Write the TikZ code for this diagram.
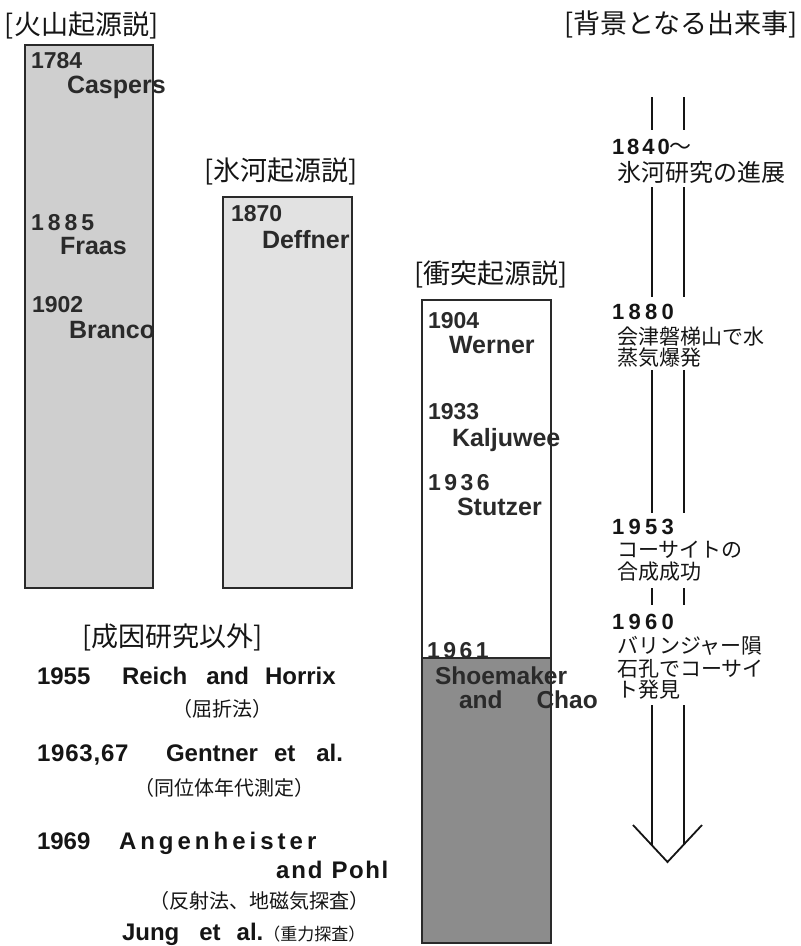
\documentclass[tikz,border=0pt]{standalone}
\usepackage{fontspec}
\newfontfamily\lat{Liberation Sans}
\newfontfamily\jp{Noto Sans CJK JP}
\definecolor{ink}{HTML}{151515}
\definecolor{boxink}{HTML}{2A2A2A}
\definecolor{volc}{HTML}{CFCFCF}
\definecolor{glac}{HTML}{E2E2E2}
\definecolor{imp}{HTML}{8C8C8C}
\begin{document}
\begin{tikzpicture}[x=1pt,y=-1pt,
  every node/.style={inner sep=0pt, outer sep=0pt, anchor=base west},
  yr/.style={font=\lat\bfseries\fontsize{23}{23}\selectfont, text=boxink},
  nm/.style={font=\lat\bfseries\fontsize{25}{25}\selectfont, text=boxink},
  ryr/.style={font=\lat\bfseries\fontsize{22}{22}\selectfont, text=ink},
  byr/.style={font=\lat\bfseries\fontsize{24}{24}\selectfont, text=ink},
  hd/.style={font=\jp\fontsize{27}{27}\selectfont, text=ink},
  ev/.style={font=\jp\fontsize{21}{21}\selectfont, text=ink},
  note/.style={font=\jp\fontsize{20}{20}\selectfont, text=ink},
  colbox/.style={draw=boxink, line width=1.4pt, anchor=north west, minimum width=#1},
  dbl/.style={draw=ink, line width=1.8pt, double=white, double distance=30.2pt},
]
\useasboundingbox (0,0) rectangle (801,946);

% ---------- headers ----------
\node[hd] (hv) at (5,34) {[火山起源説]};
\node[hd] (hg) at (204,180) {[氷河起源説]};
\node[hd] (hi) at (414,283) {[衝突起源説]};
\node[hd] (hb) at (564,33) {[背景となる出来事]};
\node[hd] (ho) at (82,646) {[成因研究以外]};

% ---------- boxes ----------
\node[colbox=128pt, fill=volc, minimum height=543pt] (bv) at (25,45) {};
\node[colbox=129pt, fill=glac, minimum height=391pt] (bg) at (223,197) {};
\node[colbox=129pt, fill=white, minimum height=643pt] (bi) at (422,300) {};
\node[colbox=129pt, fill=imp, minimum height=285pt] (bd) at (422,658) {};

% ---------- volcanic ----------
\node[yr] (y1784) at (31,68) {1784};
\node[nm] (caspers) at (67,93) {Caspers};
\node[yr] (y1885) at (31,230) {1\kern4pt 8\kern4pt 8\kern4pt 5};
\node[nm] (fraas) at (60,254) {Fraas};
\node[yr] (y1902) at (32,312) {1902};
\node[nm] (branco) at (69,338) {Branco};

% ---------- glacial ----------
\node[yr] (y1870) at (231,221) {1870};
\node[nm] (deffner) at (262,248) {Deffner};

% ---------- impact ----------
\node[yr] (y1904) at (428,328) {1904};
\node[nm] (werner) at (449,353) {Werner};
\node[yr] (y1933) at (428,419) {1933};
\node[nm] (kalj) at (452,446) {Kaljuwee};
\node[yr] (y1936) at (428,490) {1\kern3.5pt 9\kern3.5pt 3\kern3.5pt 6};
\node[nm] (stutzer) at (457,515) {Stutzer};
\node[yr] (y1961) at (427,658) {1\kern3.5pt 9\kern3.5pt 6\kern3.5pt 1};
\node[nm, font=\lat\bfseries\fontsize{24.5}{23.5}\selectfont, align=left, anchor=north west] (shoe) at (435,667)
  {Shoemaker\\\hspace*{24pt}and\hspace{34pt}Chao};

% ---------- background events ----------
\node[ryr] (e1840) at (612,154) {1\kern3pt 8\kern3pt 4\kern3pt 0{\jp\mdseries ～}};
\node[ev, font=\jp\fontsize{24}{24}\selectfont] (t1840) at (617,181) {氷河研究の進展};
\node[ryr] (e1880) at (612,319) {1\kern4.3pt 8\kern4.3pt 8\kern4.3pt 0};
\node[ev] (t1880a) at (617,344) {会津磐梯山で水};
\node[ev] (t1880b) at (617,365) {蒸気爆発};
\node[ryr] (e1953) at (612,534) {1\kern4.3pt 9\kern4.3pt 5\kern4.3pt 3};
\node[ev] (t1953a) at (617,557) {コーサイトの};
\node[ev] (t1953b) at (617,579) {合成成功};
\node[ryr] (e1960) at (612,629) {1\kern4.3pt 9\kern4.3pt 6\kern4.3pt 0};
\node[ev] (t1960a) at (617,653) {バリンジャー隕};
\node[ev] (t1960b) at (617,676) {石孔でコーサイ};
\node[ev] (t1960c) at (617,697) {ト発見};

% timeline (double line with open arrowhead)
\coordinate (s1a) at (668,97);  \coordinate (s1b) at (668,130);
\coordinate (s2a) at (668,187); \coordinate (s2b) at (668,297);
\coordinate (s3a) at (668,370); \coordinate (s3b) at (668,513);
\coordinate (s4a) at (668,588); \coordinate (s4b) at (668,605);
\coordinate (s5a) at (668,705); \coordinate (s5b) at (668,845);
\draw[dbl] (s1a) -- (s1b);
\draw[dbl] (s2a) -- (s2b);
\draw[dbl] (s3a) -- (s3b);
\draw[dbl] (s4a) -- (s4b);
\draw[dbl] (s5a) -- (s5b);
\coordinate (vl) at (633,825); \coordinate (vt) at (667.5,862); \coordinate (vr) at (702,825);
\draw[draw=ink, line width=1.8pt] (vl) -- (vt) -- (vr);

% ---------- other studies ----------
\node[byr] (o1955) at (37,684) {1955};
\node[byr] (reich) at (122,684) {Reich\hspace{19pt}and\hspace{16pt}Horrix};
\node[note] (n1955) at (172,716) {（屈折法）};
\node[byr] (o1963) at (37,761) {1\kern0.8pt 9\kern0.8pt 6\kern0.8pt 3\kern0.8pt,\kern0.8pt 6\kern0.8pt 7};
\node[byr] (gent) at (166,761) {Gentner\hspace{16pt}et\hspace{21pt}al.};
\node[note] (n1963) at (134,795) {（同位体年代測定）};
\node[byr] (o1969) at (37,849) {1969};
\node[byr] (angen) at (119,849) {A\kern4pt n\kern4pt g\kern4pt e\kern4pt n\kern4pt h\kern4pt e\kern4pt i\kern4pt s\kern4pt t\kern4pt e\kern4pt r};
\node[byr] (pohl) at (276,878) {a\kern2pt n\kern2pt d\hspace{9pt}P\kern1.5pt o\kern1.5pt h\kern1.5pt l};
\node[note] (n1969) at (149,908) {（反射法、地磁気探査）};
\node[byr] (jung) at (122,940) {Jung\hspace{20pt}et\hspace{16pt}al.{\jp\mdseries\fontsize{17}{17}\selectfont （重力探査）}};
\end{tikzpicture}
\end{document}
